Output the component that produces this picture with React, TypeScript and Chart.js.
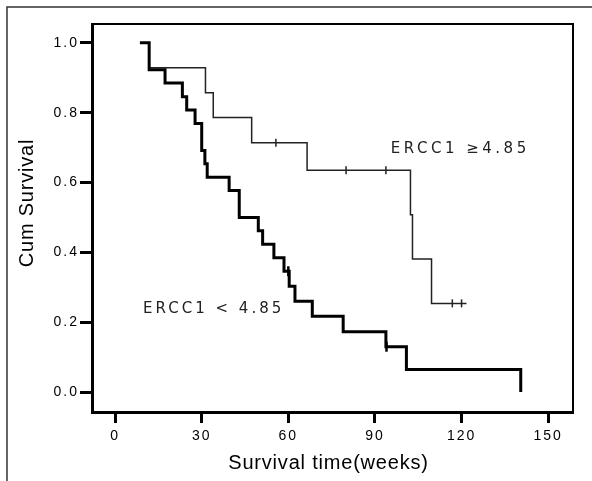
import React, { useEffect, useRef } from "react";
import { Chart, registerables } from "chart.js";

Chart.register(...registerables);

// Tick values
const xTickValues = [0, 30, 60, 90, 120, 150];
const yTickValues = [0, 0.2, 0.4, 0.6, 0.8, 1.0];

// ERCC1 >= 4.85 (thin curve): event times (weeks) and survival after each step
const highTimes = [8.6, 11.8, 31.3, 34.0, 47.3, 66.5, 102.3, 103.0, 109.6, 121.7];
const highSurv = [1.0, 0.929, 0.857, 0.786, 0.714, 0.635, 0.508, 0.381, 0.254, 0.254];
const highCensorTimes = [55.7, 80.0, 93.8, 116.8, 120.0];
const highCensorSurv = [0.714, 0.635, 0.635, 0.254, 0.254];

// ERCC1 < 4.85 (thick curve)
const lowTimes = [8.6, 11.8, 17.3, 23.3, 24.8, 27.7, 30.0, 31.1, 31.9, 39.5, 43.0, 49.6, 51.1, 55.0, 58.5, 60.3, 62.3, 68.3, 79.0, 93.8, 100.9, 140.5];
const lowSurv = [1.0, 0.923, 0.885, 0.846, 0.808, 0.769, 0.692, 0.654, 0.615, 0.577, 0.5, 0.462, 0.423, 0.385, 0.346, 0.303, 0.26, 0.217, 0.173, 0.13, 0.065, 0.0];
const lowCensorTimes = [60.0, 94.0];
const lowCensorSurv = [0.346, 0.13];

// Text
const labelHigh = "ERCC1 ≥4.85";
const labelLow = "ERCC1 < 4.85";
const xTitle = "Survival time(weeks)";
const yTitle = "Cum Survival";

export default function App() {
  const ref = useRef<HTMLCanvasElement>(null);

  useEffect(() => {
    if (!ref.current) return;
    const toPts = (t: number[], s: number[]) => t.map((x, i) => ({ x, y: s[i] }));

    const decor = {
      id: "decor",
      beforeDraw(chart: any) {
        const ctx = chart.ctx;
        ctx.save();
        ctx.strokeStyle = "#333";
        ctx.lineWidth = 1.5;
        ctx.beginPath();
        ctx.moveTo(7, 481);
        ctx.lineTo(7, 7);
        ctx.lineTo(592, 7);
        ctx.stroke();
        ctx.restore();
        ctx.letterSpacing = "2px";
      },
      afterDraw(chart: any) {
        const ctx = chart.ctx;
        const { left, right, top, bottom } = chart.chartArea;
        const xs = chart.scales.x;
        const ys = chart.scales.y;
        ctx.save();
        ctx.strokeStyle = "#000";
        ctx.lineWidth = 2;
        ctx.beginPath();
        ctx.moveTo(left, top);
        ctx.lineTo(right, top);
        ctx.lineTo(right, bottom);
        ctx.stroke();

        // annotations
        ctx.fillStyle = "#222";
        ctx.font = "15px 'DejaVu Sans'";
        ctx.textBaseline = "middle";
        ctx.textAlign = "left";
        ctx.letterSpacing = "3.5px";
        ctx.fillText(labelHigh, xs.getPixelForValue(95.5), ys.getPixelForValue(0.697));
        ctx.letterSpacing = "3px";
        ctx.fillText(labelLow, xs.getPixelForValue(9.7), ys.getPixelForValue(0.237));

        // axis titles
        ctx.fillStyle = "#000";
        ctx.font = "20px 'Liberation Sans'";
        ctx.letterSpacing = "0.8px";
        ctx.textAlign = "center";
        ctx.fillText(xTitle, (left + right) / 2 - 4, 463);
        ctx.translate(27, 203);
        ctx.rotate(-Math.PI / 2);
        ctx.fillText(yTitle, 0, 0);
        ctx.restore();
      },
    };

    const chart = new Chart(ref.current, {
      type: "scatter",
      data: {
        datasets: [
          {
            data: toPts(lowTimes, lowSurv),
            showLine: true,
            stepped: "before",
            borderColor: "#000",
            borderWidth: 3,
            borderJoinStyle: "miter",
            borderCapStyle: "butt",
            pointRadius: 0,
            fill: false,
          },
          {
            data: toPts(highTimes, highSurv),
            showLine: true,
            stepped: "before",
            borderColor: "#222",
            borderWidth: 1.5,
            borderJoinStyle: "miter",
            borderCapStyle: "butt",
            pointRadius: 0,
            fill: false,
          },
          {
            data: toPts(lowCensorTimes, lowCensorSurv),
            showLine: false,
            pointStyle: "line",
            rotation: 90,
            pointRadius: 5,
            pointBorderWidth: 2.5,
            pointBorderColor: "#000",
          },
          {
            data: toPts(highCensorTimes, highCensorSurv),
            showLine: false,
            pointStyle: "line",
            rotation: 90,
            pointRadius: 4,
            pointBorderWidth: 1.5,
            pointBorderColor: "#222",
          },
        ] as any,
      },
      options: {
        animation: false,
        responsive: true,
        maintainAspectRatio: false,
        events: [],
        layout: { padding: { left: 0, right: 19, top: 24, bottom: 0 } },
        plugins: { legend: { display: false }, tooltip: { enabled: false } },
        scales: {
          x: {
            type: "linear",
            min: -8,
            max: 158.6,
            afterFit: (s: any) => {
              s.height = 69;
            },
            afterBuildTicks: (s: any) => {
              s.ticks = xTickValues.map((v) => ({ value: v }));
            },
            grid: {
              display: true,
              drawOnChartArea: false,
              drawTicks: true,
              tickLength: 11,
              tickWidth: 3,
              tickColor: "#000",
              color: "#000",
            },
            border: { display: true, width: 3, color: "#000" },
            ticks: {
              autoSkip: false,
              maxRotation: 0,
              padding: 5,
              color: "#000",
              font: { family: "'Liberation Sans'", size: 14 },
              callback: (v: any) => String(v),
            },
          },
          y: {
            type: "linear",
            min: -0.057,
            max: 1.054,
            afterFit: (s: any) => {
              s.width = 92;
            },
            afterBuildTicks: (s: any) => {
              s.ticks = yTickValues.map((v) => ({ value: v }));
            },
            grid: {
              display: true,
              drawOnChartArea: false,
              drawTicks: true,
              tickLength: 12,
              tickWidth: 3,
              tickColor: "#000",
              color: "#000",
            },
            border: { display: true, width: 3, color: "#000" },
            ticks: {
              padding: 1,
              color: "#000",
              font: { family: "'Liberation Sans'", size: 14 },
              callback: (v: any) => Number(v).toFixed(1),
            },
          },
        },
      },
      plugins: [decor],
    } as any);

    return () => chart.destroy();
  }, []);

  return (
    <div style={{ position: "absolute", left: 0, top: 0, width: 592, height: 481, background: "#fff" }}>
      <canvas ref={ref} />
    </div>
  );
}
